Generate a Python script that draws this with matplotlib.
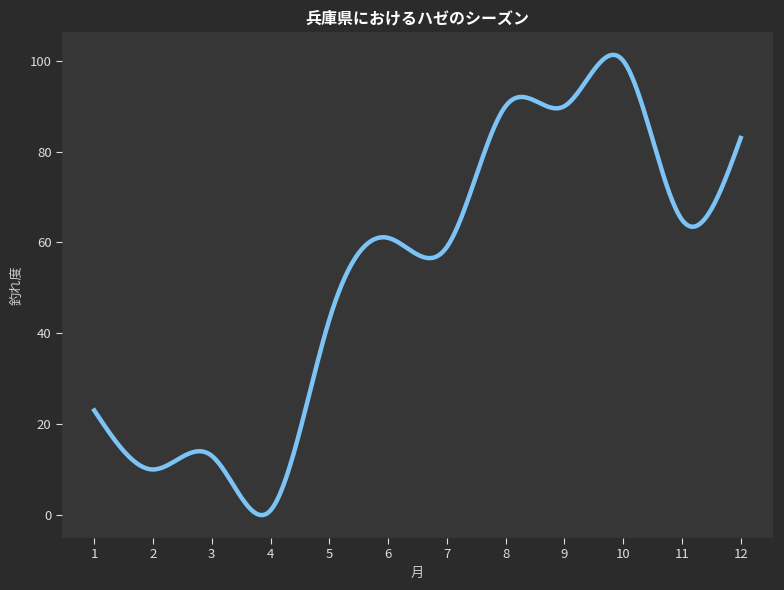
import matplotlib
matplotlib.use('Agg')
import matplotlib.pyplot as plt
import numpy as np

plt.rcParams['font.family'] = ['Noto Sans CJK JP', 'DejaVu Sans']

# monthly fishing index
months = [1, 2, 3, 4, 5, 6, 7, 8, 9, 10, 11, 12]
catch_index = [23, 10, 13, 1, 43, 61, 59, 90, 90, 100, 65, 83]


def cubic_spline(x, y, xs):
    """Natural cubic spline evaluated at xs (numpy only)."""
    x = np.asarray(x, float)
    y = np.asarray(y, float)
    n = len(x)
    m = n - 1
    h = np.diff(x)
    A = np.zeros((4 * m, 4 * m))
    b = np.zeros(4 * m)
    row = 0
    for i in range(m):
        # value at left and right end of segment
        A[row, 4 * i] = 1
        b[row] = y[i]
        row += 1
        A[row, 4 * i:4 * i + 4] = [1, h[i], h[i] ** 2, h[i] ** 3]
        b[row] = y[i + 1]
        row += 1
    for i in range(m - 1):
        # first derivative continuity
        A[row, 4 * i:4 * i + 4] = [0, 1, 2 * h[i], 3 * h[i] ** 2]
        A[row, 4 * (i + 1) + 1] = -1
        row += 1
        # second derivative continuity
        A[row, 4 * i:4 * i + 4] = [0, 0, 2, 6 * h[i]]
        A[row, 4 * (i + 1) + 2] = -2
        row += 1
    # natural ends: zero curvature
    A[row, 2] = 2
    row += 1
    A[row, 4 * (m - 1) + 2] = 2
    A[row, 4 * (m - 1) + 3] = 6 * h[-1]
    coef = np.linalg.solve(A, b).reshape(m, 4)
    idx = np.clip(np.searchsorted(x, xs, side='right') - 1, 0, m - 1)
    t = xs - x[idx]
    c = coef[idx]
    return c[:, 0] + c[:, 1] * t + c[:, 2] * t ** 2 + c[:, 3] * t ** 3


x_smooth = np.linspace(months[0], months[-1], 400)
y_smooth = cubic_spline(months, catch_index, x_smooth)

fig, ax = plt.subplots(figsize=(7.84, 5.9), dpi=100)
fig.patch.set_facecolor('#2b2b2b')
ax.set_facecolor('#363636')

ax.plot(x_smooth, y_smooth, color='#7cc4f6', linewidth=3.2)

ax.set_title('兵庫県におけるハゼのシーズン', color='white', fontsize=11.5,
             fontweight='bold')
ax.set_xlabel('月', color='#cccccc', fontsize=9.5)
ax.set_ylabel('釣れ度', color='#cccccc', fontsize=9.5)
ax.set_xticks(months)
ax.tick_params(colors='#dddddd', labelsize=9.5, length=4)
for s in ax.spines.values():
    s.set_visible(False)

fig.subplots_adjust(left=0.079, right=0.986, top=0.946, bottom=0.088)
plt.savefig('out.png', dpi=100, facecolor=fig.get_facecolor())
